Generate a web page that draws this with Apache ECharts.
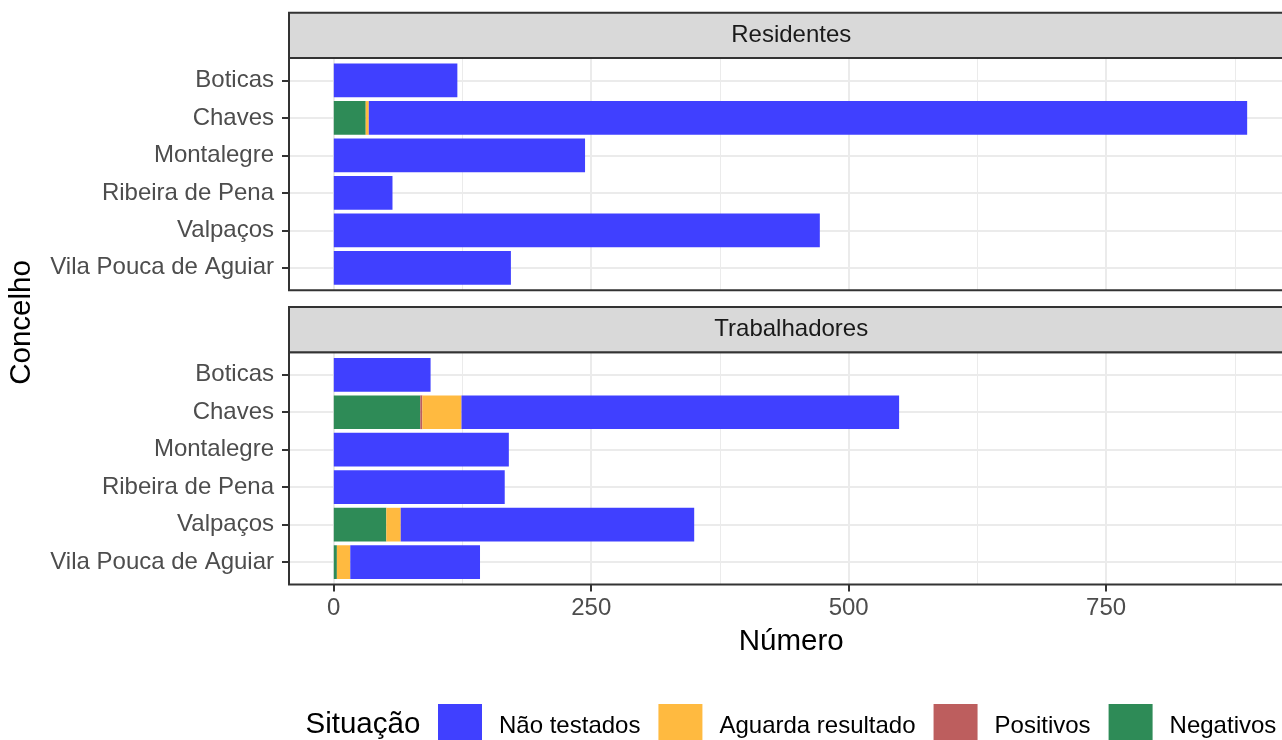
<!DOCTYPE html>
<html>
<head>
<meta charset="utf-8">
<script src="https://cdn.jsdelivr.net/npm/echarts@6/dist/echarts.min.js"></script>
<style>
html,body{margin:0;padding:0;background:#fff;}
#chart{width:1282px;height:740px;}
</style>
</head>
<body>
<div id="chart"></div>
<script>
const categories = ['Boticas', 'Chaves', 'Montalegre', 'Ribeira de Pena', 'Valpaços', 'Vila Pouca de Aguiar'];
const facetNames = ['Residentes', 'Trabalhadores'];
const legendNames = ['Não testados', 'Aguarda resultado', 'Positivos', 'Negativos'];

const resNaoTestados = [120, 853, 244, 57, 472, 172];
const resAguarda     = [0, 3, 0, 0, 0, 0];
const resPositivos   = [0, 0, 0, 0, 0, 0];
const resNegativos   = [0, 31, 0, 0, 0, 0];

const trabNaoTestados = [94, 425, 170, 166, 285, 126];
const trabAguarda     = [0, 38, 0, 0, 14, 13];
const trabPositivos   = [0, 2, 0, 0, 0, 0];
const trabNegativos   = [0, 84, 0, 0, 51, 3];

const xTicks = [0, 250, 500, 750];
const xMinorTicks = [125, 375, 625, 875];

const FONT = '"Liberation Sans", Arial, Helvetica, sans-serif';
const colors = {
  'Não testados': '#4040FF',
  'Aguarda resultado': '#FFBA40',
  'Positivos': '#BD5E5E',
  'Negativos': '#2E8B57'
};

const X_MIN = -43.5, X_MAX = 932;
const PANEL_LEFT = 289, PANEL_W = 1004.5, PANEL_H = 232.3;
const panelTops = [58, 352.3];
const stripTops = [12.7, 307];
const STRIP_H = 45.3;
const step = PANEL_H / 6.2;

const grids = [];
panelTops.forEach(function (t) {
  grids.push({ left: PANEL_LEFT, top: t, width: PANEL_W, height: PANEL_H, show: false,
    containLabel: false, outerBoundsMode: 'none' });
  grids.push({ left: PANEL_LEFT, top: t + 0.6 * step, width: PANEL_W, height: 5 * step,
    containLabel: false, outerBoundsMode: 'none' });
});

const xAxes = [];
const yAxes = [];
[0, 1].forEach(function (p) {
  const frameGrid = p * 2, dataGrid = p * 2 + 1;
  const isBottom = p === 1;
  // minor gridlines
  xAxes.push({ type: 'value', gridIndex: frameGrid, min: X_MIN, max: X_MAX,
    minInterval: 125, maxInterval: 125,
    axisLine: { show: false, onZero: false }, axisLabel: { show: false },
    axisTick: { show: false, customValues: xMinorTicks },
    splitLine: { show: true, lineStyle: { color: '#EBEBEB', width: 1 } } });
  // major gridlines (+ labels on bottom)
  xAxes.push({ type: 'value', gridIndex: frameGrid, min: X_MIN, max: X_MAX,
    minInterval: 250, maxInterval: 250,
    position: 'bottom',
    name: isBottom ? 'Número' : '',
    nameLocation: 'middle', nameGap: 42,
    nameTextStyle: { fontSize: 29.5, color: '#000000', fontFamily: FONT },
    axisLine: { show: false, onZero: false },
    axisLabel: { show: isBottom, customValues: xTicks,
      fontSize: 24, color: '#4D4D4D', margin: 12, fontFamily: FONT },
    axisTick: { show: isBottom, customValues: xTicks, length: 7, lineStyle: { color: '#333333', width: 2 } },
    splitLine: { show: true, lineStyle: { color: '#EBEBEB', width: 2 } } });
  // data x axis (hidden)
  xAxes.push({ type: 'value', gridIndex: dataGrid, min: X_MIN, max: X_MAX, show: false,
    axisLine: { onZero: false }, splitLine: { show: false } });
  yAxes.push({ type: 'value', gridIndex: frameGrid, min: 0, max: 1, show: false,
    axisLine: { onZero: false }, splitLine: { show: false } });
  yAxes.push({ type: 'category', gridIndex: dataGrid, data: categories, inverse: true, boundaryGap: false,
    position: 'left',
    axisLine: { show: false, onZero: false },
    axisTick: { show: true, length: 7, interval: 0, lineStyle: { color: '#333333', width: 2 } },
    axisLabel: { interval: 0, fontSize: 24, color: '#4D4D4D', margin: 15, fontFamily: FONT },
    splitLine: { show: true, interval: 0, lineStyle: { color: '#EBEBEB', width: 2 } } });
});

function barSeries(name, data, panel) {
  return {
    name: name, type: 'bar', stack: 'p' + panel, data: data,
    xAxisIndex: panel * 3 + 2, yAxisIndex: panel * 2 + 1,
    barWidth: 0.9 * step, clip: false,
    itemStyle: { color: colors[name] },
    emphasis: { disabled: true }
  };
}

const series = [
  barSeries('Negativos', resNegativos, 0),
  barSeries('Positivos', resPositivos, 0),
  barSeries('Aguarda resultado', resAguarda, 0),
  barSeries('Não testados', resNaoTestados, 0),
  barSeries('Negativos', trabNegativos, 1),
  barSeries('Positivos', trabPositivos, 1),
  barSeries('Aguarda resultado', trabAguarda, 1),
  barSeries('Não testados', trabNaoTestados, 1)
];

const graphics = [];
[0, 1].forEach(function (p) {
  // panel border (right edge lies outside the canvas, as in the reference)
  graphics.push({ type: 'rect', z: 50, shape: { x: PANEL_LEFT, y: panelTops[p], width: PANEL_W, height: PANEL_H },
    style: { fill: 'none', stroke: '#333333', lineWidth: 2 }, silent: true });
  graphics.push({ type: 'rect', z: 51, shape: { x: PANEL_LEFT, y: stripTops[p], width: PANEL_W, height: STRIP_H },
    style: { fill: '#D9D9D9', stroke: '#333333', lineWidth: 2 }, silent: true });
  graphics.push({ type: 'text', z: 52, x: PANEL_LEFT + PANEL_W / 2, y: stripTops[p] + STRIP_H / 2,
    style: { text: facetNames[p], fontSize: 24, fontFamily: FONT, fill: '#1A1A1A', align: 'center', verticalAlign: 'middle' },
    silent: true });
});
graphics.push({ type: 'text', x: 21.5, y: 322.5, rotation: Math.PI / 2,
  style: { text: 'Concelho', fontSize: 29.5, fontFamily: FONT, fill: '#000000', align: 'center', verticalAlign: 'middle' },
  silent: true });
graphics.push({ type: 'text', x: 305.5, y: 725,
  style: { text: 'Situação', fontSize: 29.5, fontFamily: FONT, fill: '#000000', align: 'left', verticalAlign: 'middle' },
  silent: true });

const chart = echarts.init(document.getElementById('chart'), null, { renderer: 'canvas' });
chart.setOption({
  animation: false,
  backgroundColor: '#ffffff',
  textStyle: { fontFamily: FONT },
  grid: grids,
  xAxis: xAxes,
  yAxis: yAxes,
  legend: {
    data: legendNames, left: 438, top: 704, orient: 'horizontal',
    itemWidth: 44, itemHeight: 44, itemGap: 18, icon: 'rect', padding: 0,
    selectedMode: false,
    textStyle: { fontSize: 24, color: '#000000', fontFamily: FONT, padding: [0, 0, 0, 12] }
  },
  graphic: graphics,
  series: series
});
</script>
</body>
</html>
